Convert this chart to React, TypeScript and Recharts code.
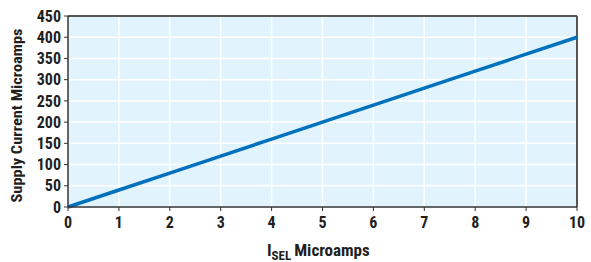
import React from 'react';
import {
  LineChart,
  Line,
  XAxis,
  YAxis,
  CartesianGrid,
  ReferenceLine,
  Label,
} from 'recharts';

const selCurrent = [0, 1, 2, 3, 4, 5, 6, 7, 8, 9, 10];
const supplyCurrent = [0, 40, 80, 120, 160, 200, 240, 280, 320, 360, 400];
const xTicks = [0, 1, 2, 3, 4, 5, 6, 7, 8, 9, 10];
const yTicks = [0, 50, 100, 150, 200, 250, 300, 350, 400, 450];

const chartData = selCurrent.map((x, i) => ({ x, y: supplyCurrent[i] }));

const FONT = '"Liberation Sans Narrow", "Arial Narrow", "Roboto Condensed", "Liberation Sans", sans-serif';
const tickStyle = { fill: '#231f20', fontSize: 16, fontWeight: 700, fontFamily: FONT };

// x title with the SEL subscript
const XTitle = () => (
  <text
    x={267}
    y={256}
    fill="#231f20"
    fontFamily={FONT}
    fontWeight={700}
    fontSize={17}
  >
    I
    <tspan fontSize={13} dy={4}>SEL</tspan>
    <tspan dy={-4} dx={3}>Microamps</tspan>
  </text>
);

const YTitle = (props: any) => {
  const { viewBox } = props;
  const cy = viewBox.y + viewBox.height / 2 + 4;
  return (
    <text
      x={22}
      y={cy}
      transform={`rotate(-90, 22, ${cy})`}
      textAnchor="middle"
      fill="#231f20"
      fontFamily={FONT}
      fontWeight={700}
      fontSize={15}
      textLength={174}
      lengthAdjust="spacingAndGlyphs"
    >
      Supply Current Microamps
    </text>
  );
};

export default function App() {
  return (
    <div style={{ position: 'absolute', left: 0, top: 0, background: '#fff' }}>
      <LineChart
        width={591}
        height={262}
        data={chartData}
        margin={{ top: 16, right: 14, bottom: 0, left: 0 }}
      >
        <CartesianGrid
          fill="#e1f3fd"
          stroke="#ffffff"
          strokeWidth={1.5}
          horizontalValues={yTicks}
          verticalValues={xTicks}
        />
        <XAxis
          type="number"
          dataKey="x"
          domain={[0, 10]}
          ticks={xTicks}
          height={55}
          tick={tickStyle}
          tickSize={4}
          tickMargin={6}
          stroke="#333"
          axisLine={{ stroke: '#333', strokeWidth: 1.5 }}
        >
          <Label content={<XTitle />} />
        </XAxis>
        <YAxis
          type="number"
          domain={[0, 450]}
          ticks={yTicks}
          width={68}
          tick={tickStyle}
          tickSize={4}
          tickMargin={3}
          stroke="#333"
          axisLine={{ stroke: '#333', strokeWidth: 1.5 }}
          interval={0}
        >
          <Label content={<YTitle />} />
        </YAxis>
        <ReferenceLine y={450} stroke="#555" strokeWidth={2} />
        <ReferenceLine x={10} stroke="#555" strokeWidth={2} />
        <Line
          type="linear"
          dataKey="y"
          stroke="#0071bc"
          strokeWidth={3.5}
          dot={false}
          isAnimationActive={false}
        />
      </LineChart>
    </div>
  );
}
